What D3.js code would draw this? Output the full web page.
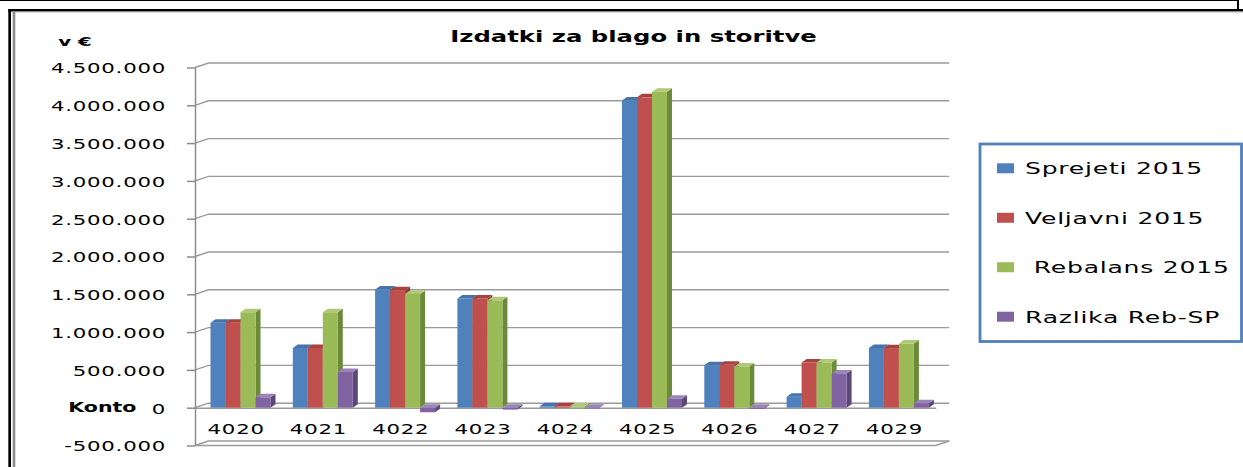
<!DOCTYPE html>
<html><head><meta charset="utf-8">
<script src="https://cdn.jsdelivr.net/npm/d3@7"></script>
<style>
html,body{margin:0;padding:0;background:#fff;}
svg{display:block;}
text{font-family:"DejaVu Sans",sans-serif;fill:#000;}
</style>
</head><body>
<svg id="c" width="1243" height="467"></svg>
<script>
// ---- data ----
const categories = ["4020","4021","4022","4023","4024","4025","4026","4027","4029"];
const seriesNames = ["Sprejeti 2015","Veljavni 2015"," Rebalans 2015","Razlika Reb-SP"];
const sprejeti2015 = [1125000, 790000, 1565000, 1445000, 18000, 4065000, 560000, 145000, 790000];
const veljavni2015 = [1125000, 790000, 1555000, 1445000, 18000, 4105000, 568000, 598000, 788000];
const rebalans2015 = [1262000, 1262000, 1505000, 1420000, 17000, 4178000, 545000, 598000, 848000];
const razlikaRebSP = [137000, 472000, -60000, -25000, -2000, 118000, -15000, 453000, 58000];
const yTickValues = [-500000, 0, 500000, 1000000, 1500000, 2000000, 2500000, 3000000, 3500000, 4000000, 4500000];
const titleText = "Izdatki za blago in storitve";
const yUnitText = "v €";
const xAxisText = "Konto";

// ---- style ----
const series = [sprejeti2015, veljavni2015, rebalans2015, razlikaRebSP];
const front = ["#4F81BD","#C0504D","#9BBB59","#8064A2"];
const side  = ["#385D8A","#8C3836","#6B8A3A","#5C4776"];
const topc  = ["#4673AA","#A8423F","#AFC974","#9A84BA"];
const K = 1.52; // horizontal text stretch
const DX = 13.5, DY = -4.5;   // wall depth
const BDX = 5, BDY = -3.5;    // bar depth

const svg = d3.select("#c");
const fmt = d3.formatLocale({decimal:",", thousands:".", grouping:[3], currency:["","€"], minus:"-"}).format(",");

const x = d3.scaleBand().domain(categories).range([195, 935.7]).padding(0);
const xs = d3.scaleBand().domain(d3.range(series.length)).range([15.5, 75.5]).padding(0);
const y = d3.scaleLinear().domain([-500000, 4500000]).range([445.5, 67.5]);
const xR = x.range()[1];

// ---- frame ----
svg.append("line").attr("x1",0).attr("x2",1237).attr("y1",0.5).attr("y2",0.5).attr("stroke","#000").attr("stroke-width",1);
svg.append("rect").attr("x",1237).attr("y",0).attr("width",2).attr("height",10).attr("fill","#000");
svg.append("rect").attr("x",8.3).attr("y",9).attr("width",1243).attr("height",2.6).attr("fill","#000");
svg.append("rect").attr("x",12).attr("y",11.6).attr("width",1231).attr("height",1).attr("fill","#c4c4c4");
svg.append("rect").attr("x",8.3).attr("y",9).attr("width",2.7).attr("height",460).attr("fill","#000");
svg.append("rect").attr("x",12.7).attr("y",11.6).attr("width",2.6).attr("height",460).attr("fill","#8c8c8c");

// ---- gridlines (side wall + back wall) ----
svg.append("g").selectAll("path").data(yTickValues).join("path")
  .attr("d", v => `M195,${y(v)}L${195+DX},${y(v)+DY}L${xR+DX},${y(v)+DY}`)
  .attr("fill","none").attr("stroke","#9a9a9a").attr("stroke-width",1.4);

// floor front edge and right slant
const yf = y(-500000);
svg.append("path").attr("d", `M195,${yf}L${xR},${yf}L${xR+DX},${yf+DY}`)
  .attr("fill","none").attr("stroke","#9a9a9a").attr("stroke-width",1.4);

// ---- category axis (front zero line) ----
const gx = svg.append("g").attr("transform", `translate(0,${y(0)})`)
  .call(d3.axisBottom(x).tickSize(0).tickSizeOuter(0));
gx.select(".domain").attr("stroke","#9a9a9a").attr("stroke-width",1.4);
gx.selectAll("text").attr("y", 26.3).attr("dy", null)
  .attr("transform", `scale(${K},1)`)
  .style("font-size","14px").style("letter-spacing","0.5px").attr("fill","#000")
  .style("font-family","'DejaVu Sans',sans-serif");

// ---- value axis ----
const gy = svg.append("g").attr("transform","translate(195,0)")
  .call(d3.axisLeft(y).tickValues(yTickValues).tickFormat(fmt).tickSize(8).tickSizeOuter(0).tickPadding(21));
gy.select(".domain").attr("stroke","#8c8c8c").attr("stroke-width",1.5);
gy.selectAll(".tick line").attr("stroke","#8c8c8c").attr("stroke-width",1.5);
gy.selectAll("text").attr("x", -29 / K).attr("dy", null).attr("y", 5.3)
  .attr("transform", `scale(${K},1)`)
  .style("font-size","14px").style("letter-spacing","0.5px").attr("fill","#000")
  .style("font-family","'DejaVu Sans',sans-serif");

// ---- bars ----
const barW = xs.bandwidth();
const gb = svg.append("g");
categories.forEach((c, i) => {
  series.forEach((s, j) => {
    const v = s[i];
    const x0 = x(c) + xs(j);
    const t = Math.min(y(0), y(v)), b = Math.max(y(0), y(v));
    // side face
    gb.append("path")
      .attr("d", `M${x0+barW},${t}L${x0+barW+BDX},${t+BDY}L${x0+barW+BDX},${b+BDY}L${x0+barW},${b}Z`)
      .attr("fill", side[j]);
    // top face
    gb.append("path")
      .attr("d", `M${x0},${t}L${x0+BDX},${t+BDY}L${x0+barW+BDX},${t+BDY}L${x0+barW},${t}Z`)
      .attr("fill", topc[j]);
    // front face
    gb.append("rect").attr("x", x0).attr("y", t).attr("width", barW).attr("height", Math.max(0.8, b - t))
      .attr("fill", front[j]);
  });
});

// ---- texts ----
function stretchedText(str, tx, ty, size, weight, anchor) {
  return svg.append("text").attr("transform", `translate(${tx},${ty}) scale(${K},1)`)
    .attr("text-anchor", anchor).style("font-size", size + "px").style("font-weight", weight)
    .style("white-space","pre").text(str);
}
stretchedText(titleText, 633.5, 41.5, 16, "bold", "middle");
stretchedText(yUnitText, 58.3, 45.7, 13, "bold", "start");
stretchedText(xAxisText, 68.3, 412.3, 13.5, "bold", "start");

// ---- legend ----
const lg = svg.append("g");
lg.append("rect").attr("x", 980).attr("y", 144).attr("width", 261.5).attr("height", 197.5)
  .attr("fill","#fff").attr("stroke","#4F81BD").attr("stroke-width",2.8);
const legendY = d3.scalePoint().domain(d3.range(seriesNames.length)).range([168.3, 316.7]);
seriesNames.forEach((nm, j) => {
  lg.append("rect").attr("x", 997).attr("y", legendY(j) - 5).attr("width", 17).attr("height", 10).attr("fill", front[j]);
  svg.append("text").attr("transform", `translate(1025,${legendY(j) + 6})scale(${K},1)`)
    .style("font-size","16.5px").style("letter-spacing","0.5px").style("white-space","pre").text(nm);
});
</script>
</body></html>
